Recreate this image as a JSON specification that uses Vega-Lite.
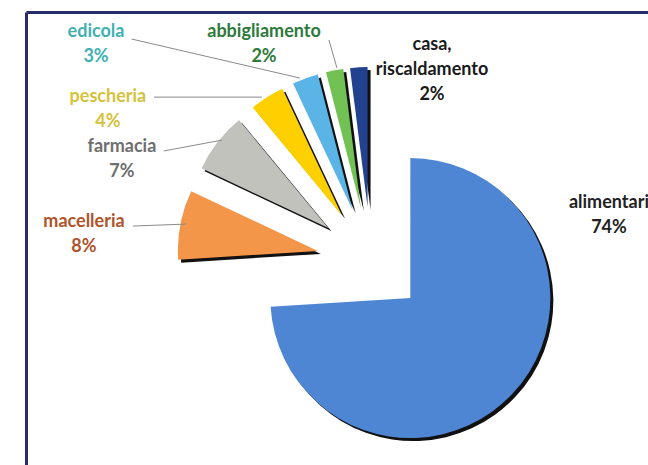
{
  "$schema": "https://vega.github.io/schema/vega-lite/v6.json",
  "width": 622,
  "height": 453,
  "autosize": {"type": "none"},
  "padding": {"left": 26, "top": 12, "right": 0, "bottom": 0},
  "background": "white",
  "config": {"view": {"stroke": null}},
  "datasets": {
    "slices": [
      {"cat": "alimentari", "label": "alimentari", "pct": 74, "order": 1, "lx": 1.70, "ly": 0.414},
      {"cat": "macelleria", "label": "macelleria", "pct": 8, "order": 2, "lx": -2.05, "ly": 0.279},
      {"cat": "farmacia", "label": "farmacia", "pct": 7, "order": 3, "lx": -1.779, "ly": 0.814},
      {"cat": "pescheria", "label": "pescheria", "pct": 4, "order": 4, "lx": -1.879, "ly": 1.171},
      {"cat": "edicola", "label": "edicola", "pct": 3, "order": 5, "lx": -1.964, "ly": 1.636},
      {"cat": "abbigliamento", "label": "abbigliamento", "pct": 2, "order": 6, "lx": -0.764, "ly": 1.636},
      {"cat": "casa, riscaldamento", "label": "casa,\nriscaldamento", "pct": 2, "order": 7, "lx": 0.436, "ly": 1.543}
    ],
    "leaders": [
      {"cat": "macelleria", "x1": -1.70, "y1": 0.25, "x2": -1.321, "y2": 0.264},
      {"cat": "farmacia", "x1": -1.48, "y1": 0.786, "x2": -1.064, "y2": 0.864},
      {"cat": "pescheria", "x1": -1.55, "y1": 1.171, "x2": -0.779, "y2": 1.171},
      {"cat": "edicola", "x1": -1.71, "y1": 1.586, "x2": -0.507, "y2": 1.307},
      {"cat": "abbigliamento", "x1": -0.30, "y1": 1.579, "x2": -0.243, "y2": 1.379}
    ]
  },
  "layer": [
    {
      "data": {"name": "slices"},
      "transform": [
        {"stack": "pct", "groupby": [], "sort": [{"field": "order", "order": "ascending"}], "as": ["a0", "a1"]},
        {"calculate": "PI*(datum.a0+datum.a1)/100", "as": "mid"},
        {"calculate": "0.386*sin(datum.mid)", "as": "cx"},
        {"calculate": "0.386*cos(datum.mid)", "as": "cy"}
      ],
      "mark": {"type": "arc", "outerRadius": 140, "fill": "#111111", "xOffset": 3, "yOffset": 3},
      "encoding": {
        "x": {"field": "cx", "type": "quantitative", "scale": {"domain": [-2.464, 1.979], "nice": false, "zero": false},
          "axis": {"orient": "top", "domain": true, "domainColor": "#262c6a", "domainWidth": 3, "labels": false, "ticks": false, "grid": false, "title": null}},
        "y": {"field": "cy", "type": "quantitative", "scale": {"domain": [-1.457, 1.779], "nice": false, "zero": false},
          "axis": {"orient": "left", "domain": true, "domainColor": "#262c6a", "domainWidth": 3, "labels": false, "ticks": false, "grid": false, "title": null}},
        "theta": {"field": "a0", "type": "quantitative", "scale": {"domain": [0, 100]}},
        "theta2": {"field": "a1"}
      }
    },
    {
      "data": {"name": "slices"},
      "transform": [
        {"stack": "pct", "groupby": [], "sort": [{"field": "order", "order": "ascending"}], "as": ["a0", "a1"]},
        {"calculate": "PI*(datum.a0+datum.a1)/100", "as": "mid"},
        {"calculate": "0.386*sin(datum.mid)", "as": "cx"},
        {"calculate": "0.386*cos(datum.mid)", "as": "cy"}
      ],
      "mark": {"type": "arc", "outerRadius": 140},
      "encoding": {
        "x": {"field": "cx", "type": "quantitative", "scale": {"domain": [-2.464, 1.979], "nice": false, "zero": false},
          "axis": {"orient": "top", "domain": true, "domainColor": "#262c6a", "domainWidth": 3, "labels": false, "ticks": false, "grid": false, "title": null}},
        "y": {"field": "cy", "type": "quantitative", "scale": {"domain": [-1.457, 1.779], "nice": false, "zero": false},
          "axis": {"orient": "left", "domain": true, "domainColor": "#262c6a", "domainWidth": 3, "labels": false, "ticks": false, "grid": false, "title": null}},
        "theta": {"field": "a0", "type": "quantitative", "scale": {"domain": [0, 100]}},
        "theta2": {"field": "a1"},
        "color": {"field": "cat", "type": "nominal", "legend": null,
          "scale": {"domain": ["alimentari", "macelleria", "farmacia", "pescheria", "edicola", "abbigliamento", "casa, riscaldamento"],
                    "range": ["#4f86d4", "#f4964a", "#c2c2bc", "#ffd000", "#5bb4e6", "#72c155", "#22428f"]}}
      }
    },
    {
      "data": {"name": "leaders"},
      "mark": {"type": "rule", "color": "#8a8a8a", "strokeWidth": 1},
      "encoding": {
        "x": {"field": "x1", "type": "quantitative", "scale": {"domain": [-2.464, 1.979], "nice": false, "zero": false},
          "axis": {"orient": "top", "domain": true, "domainColor": "#262c6a", "domainWidth": 3, "labels": false, "ticks": false, "grid": false, "title": null}},
        "y": {"field": "y1", "type": "quantitative", "scale": {"domain": [-1.457, 1.779], "nice": false, "zero": false},
          "axis": {"orient": "left", "domain": true, "domainColor": "#262c6a", "domainWidth": 3, "labels": false, "ticks": false, "grid": false, "title": null}},
        "x2": {"field": "x2"},
        "y2": {"field": "y2"}
      }
    },
    {
      "data": {"name": "slices"},
      "transform": [
        {"calculate": "datum.label + '\\n' + datum.pct + '%'", "as": "txt"}
      ],
      "mark": {"type": "text", "font": "Lato", "fontWeight": "bold", "fontSize": 18, "lineBreak": "\n", "lineHeight": 25, "align": "center", "baseline": "middle"},
      "encoding": {
        "x": {"field": "lx", "type": "quantitative", "scale": {"domain": [-2.464, 1.979], "nice": false, "zero": false},
          "axis": {"orient": "top", "domain": true, "domainColor": "#262c6a", "domainWidth": 3, "labels": false, "ticks": false, "grid": false, "title": null}},
        "y": {"field": "ly", "type": "quantitative", "scale": {"domain": [-1.457, 1.779], "nice": false, "zero": false},
          "axis": {"orient": "left", "domain": true, "domainColor": "#262c6a", "domainWidth": 3, "labels": false, "ticks": false, "grid": false, "title": null}},
        "text": {"field": "txt", "type": "nominal"},
        "fill": {"field": "cat", "type": "nominal", "legend": null,
          "scale": {"domain": ["alimentari", "macelleria", "farmacia", "pescheria", "edicola", "abbigliamento", "casa, riscaldamento"],
                    "range": ["#222222", "#b0532a", "#6e6e6e", "#d6c23a", "#3fb1b0", "#2d7a3a", "#1a1a1a"]}}
      }
    }
  ]
}
